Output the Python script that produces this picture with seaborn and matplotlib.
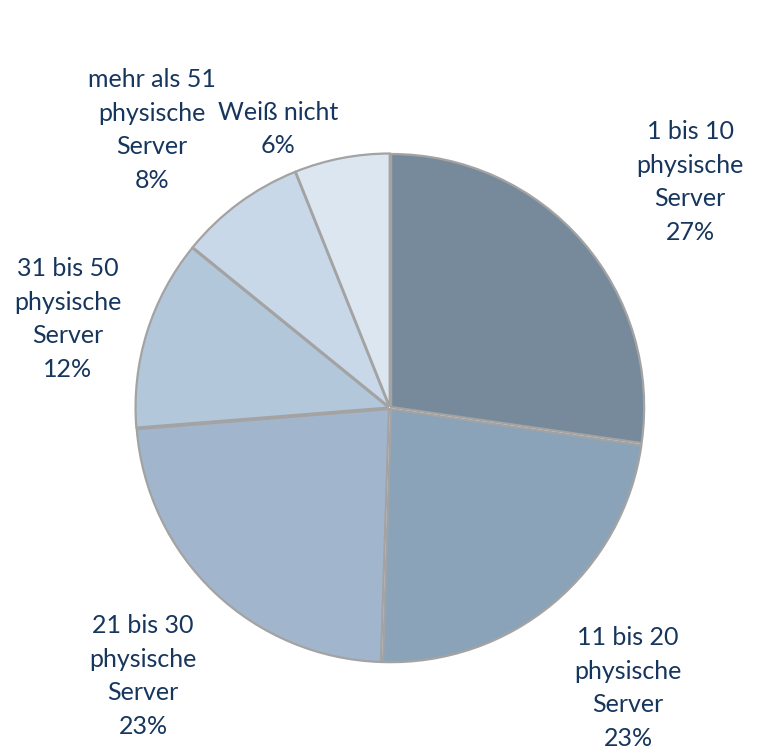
import matplotlib
matplotlib.use("Agg")
import matplotlib.pyplot as plt
import seaborn as sns

categories = ["1 bis 10\nphysische\nServer", "11 bis 20\nphysische\nServer",
              "21 bis 30\nphysische\nServer", "31 bis 50\nphysische\nServer",
              "mehr als 51\nphysische\nServer", "Weiß nicht"]
shares = [27, 23, 23, 12, 8, 6]
colors = ["#778a9b", "#8ba3b9", "#a1b6cc", "#b3c7db", "#c8d8e8", "#dce6f0"]
label_pos = [(1.186, 0.893), (0.941, -1.107), (-0.976, -1.059),
             (-1.273, 0.352), (-0.941, 1.099), (-0.443, 1.103)]

sns.set_theme(style="white")
plt.rcParams["font.family"] = ["Lato", "DejaVu Sans"]

fig = plt.figure(figsize=(7.61, 7.5), dpi=100)
R = 253
ax = fig.add_axes([(390 - R) / 761, (750 - 408 - R) / 750, 2 * R / 761, 2 * R / 750])

wedges, _ = ax.pie(shares, colors=colors, startangle=90, counterclock=False,
                   explode=[0.006] * len(shares),
                   wedgeprops=dict(edgecolor="#a3a3a3", linewidth=1.6))
ax.set_xlim(-1, 1)
ax.set_ylim(-1, 1)
ax.set_aspect("auto")
ax.axis("off")

for cat, val, (x, y) in zip(categories, shares, label_pos):
    ax.text(x, y, f"{cat}\n{val}%", ha="center", va="center", fontsize=18,
            color="#17365d", linespacing=1.55, clip_on=False)

fig.savefig("out.png", dpi=100)
